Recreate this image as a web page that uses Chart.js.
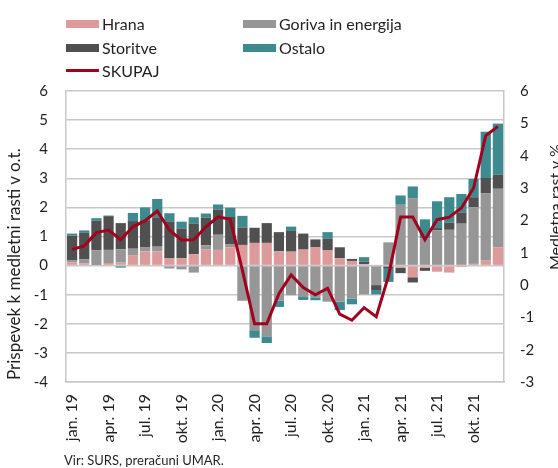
<!DOCTYPE html>
<html>
<head>
<meta charset="utf-8">
<script src="https://cdn.jsdelivr.net/npm/chart.js@4/dist/chart.umd.min.js"></script>
<style>
  html, body { margin: 0; padding: 0; background: #fff; }
  #wrap { position: relative; width: 558px; height: 468px; overflow: hidden; font-family: Lato, "Open Sans", sans-serif; color: #231f20; }
  #c { position: absolute; left: 0; top: 0; }
  .lg { position: absolute; font-size: 16px; line-height: 16px; white-space: nowrap; }
  .sw { position: absolute; width: 33px; height: 8px; }
  .ln { position: absolute; width: 33px; height: 3px; background: #a1001f; }
  #ytl { position: absolute; font-size: 17px; white-space: nowrap; transform-origin: left top; transform: rotate(-90deg); }
  #ytr { position: absolute; font-size: 16px; white-space: nowrap; transform-origin: left top; transform: rotate(-90deg); }
  #src { position: absolute; left: 64px; top: 452px; font-size: 13px; white-space: nowrap; }
</style>
</head>
<body>
<div id="wrap">
  <canvas id="c" width="558" height="468"></canvas>
  <div class="sw" style="left:66px; top:20px; background:#dc9a9a"></div>
  <div class="lg" style="left:102px; top:16px">Hrana</div>
  <div class="sw" style="left:243px; top:20px; background:#969696"></div>
  <div class="lg" style="left:279px; top:16px">Goriva in energija</div>
  <div class="sw" style="left:66px; top:44px; background:#505050"></div>
  <div class="lg" style="left:102px; top:40px">Storitve</div>
  <div class="sw" style="left:243px; top:44px; background:#3d8a8f"></div>
  <div class="lg" style="left:279px; top:40px">Ostalo</div>
  <div class="ln" style="left:66px; top:69px"></div>
  <div class="lg" style="left:102px; top:63px">SKUPAJ</div>
  <div id="ytl" style="left:3px; top:380px">Prispevek k medletni rasti v o.t.</div>
  <div id="ytr" style="left:545px; top:270px">Medletna rast v %</div>
  <div id="src">Vir: SURS, preračuni UMAR.</div>
</div>
<script>
const categories = [
  "jan. 19","feb. 19","mar. 19","apr. 19","maj. 19","jun. 19","jul. 19","avg. 19","sep. 19","okt. 19","nov. 19","dec. 19",
  "jan. 20","feb. 20","mar. 20","apr. 20","maj. 20","jun. 20","jul. 20","avg. 20","sep. 20","okt. 20","nov. 20","dec. 20",
  "jan. 21","feb. 21","mar. 21","apr. 21","maj. 21","jun. 21","jul. 21","avg. 21","sep. 21","okt. 21","nov. 21","dec. 21"
];
const hrana = [0.11,0.07,0.02,0.09,0.10,0.36,0.49,0.49,0.26,0.25,0.39,0.55,
  0.54,0.63,0.71,0.78,0.78,0.49,0.48,0.55,0.64,0.52,0.25,0.16,
  0.05,0.02,-0.03,-0.08,-0.40,-0.08,-0.21,-0.24,-0.05,0.06,0.17,0.63];
const goriva = [0.08,0.15,0.51,0.45,0.46,0.22,0.13,0.16,-0.10,-0.13,-0.24,0.15,
  0.52,0.11,-1.21,-2.22,-2.43,-1.20,-1.02,-1.08,-1.09,-1.24,-1.24,-1.13,
  -0.99,-0.67,0.80,2.09,2.32,0.94,1.21,1.23,1.44,1.95,2.32,2.01];
const storitve = [0.84,0.92,1.01,1.16,0.90,0.95,0.94,1.01,1.26,1.03,1.06,0.95,
  0.87,0.93,0.60,0.52,0.68,0.66,0.71,0.55,0.26,0.40,0.38,0.07,
  0.09,-0.17,-0.08,-0.18,-0.18,-0.10,0.08,0.25,0.39,0.34,0.52,0.48];
const ostalo = [0.07,0.07,0.09,0.02,-0.07,0.28,0.44,0.63,0.28,0.23,0.21,0.14,
  0.17,0.32,0.40,-0.26,-0.23,-0.22,0.15,-0.10,-0.10,0.23,-0.29,-0.20,
  0.15,-0.15,-0.45,0.32,0.40,0.65,0.92,0.87,0.63,0.63,1.59,1.76];
const skupaj = [1.10,1.21,1.62,1.70,1.40,1.80,1.99,2.29,1.70,1.39,1.40,1.80,
  2.11,2.03,0.45,-1.20,-1.20,-0.27,0.31,-0.08,-0.30,-0.10,-0.90,-1.09,
  -0.70,-0.98,0.27,2.10,2.10,1.40,2.02,2.10,2.38,3.00,4.62,4.90];
const leftTicks = [-4,-3,-2,-1,0,1,2,3,4,5,6];
const rightTicks = [-3,-2,-1,0,1,2,3,4,5,6];

const FONT = "Lato, 'Open Sans', sans-serif";
const TXT = '#231f20';
const GRID = '#c8c8c8';

function barSet(label, data, color) {
  return { type: 'bar', label, data, backgroundColor: color, borderWidth: 0,
    yAxisID: 'y', order: 1, categoryPercentage: 0.84, barPercentage: 1.0 };
}

new Chart(document.getElementById('c'), {
  data: {
    labels: categories,
    datasets: [
      barSet('Hrana', hrana, '#dc9a9a'),
      barSet('Goriva in energija', goriva, '#969696'),
      barSet('Storitve', storitve, '#505050'),
      barSet('Ostalo', ostalo, '#3d8a8f'),
      { type: 'line', label: 'SKUPAJ', data: skupaj, yAxisID: 'y1', order: 0,
        borderColor: '#a1001f', borderWidth: 3, pointRadius: 0, tension: 0, fill: false }
    ]
  },
  options: {
    responsive: false,
    animation: false,
    events: [],
    layout: { padding: { top: 91, left: 0, right: 0, bottom: 0 } },
    plugins: { legend: { display: false }, tooltip: { enabled: false } },
    scales: {
      x: {
        stacked: true,
        grid: { display: false, drawTicks: false },
        border: { display: true, color: GRID, width: 1.5 },
        ticks: {
          autoSkip: false, maxRotation: 90, minRotation: 90, padding: 12,
          color: TXT, font: { family: FONT, size: 16 },
          callback: function(v, i) { return i % 3 === 0 ? categories[i] : ''; }
        },
        afterFit: function(s) { s.height = 86; }
      },
      y: {
        stacked: true, position: 'left', min: -4, max: 6,
        afterBuildTicks: function(s) { s.ticks = leftTicks.map(v => ({ value: v })); },
        grid: { color: GRID, lineWidth: 1.5, drawTicks: false },
        border: { display: true, color: GRID, width: 1.5 },
        ticks: { padding: 18, color: TXT, font: { family: FONT, size: 15 } },
        afterFit: function(s) { s.width = 66; }
      },
      y1: {
        stacked: false, position: 'right', min: -3, max: 6,
        afterBuildTicks: function(s) { s.ticks = rightTicks.map(v => ({ value: v })); },
        grid: { display: false, drawTicks: false },
        border: { display: true, color: GRID, width: 1.5 },
        ticks: { padding: 16, color: TXT, font: { family: FONT, size: 15 } },
        afterFit: function(s) { s.width = 54; }
      }
    }
  }
});
</script>
</body>
</html>
